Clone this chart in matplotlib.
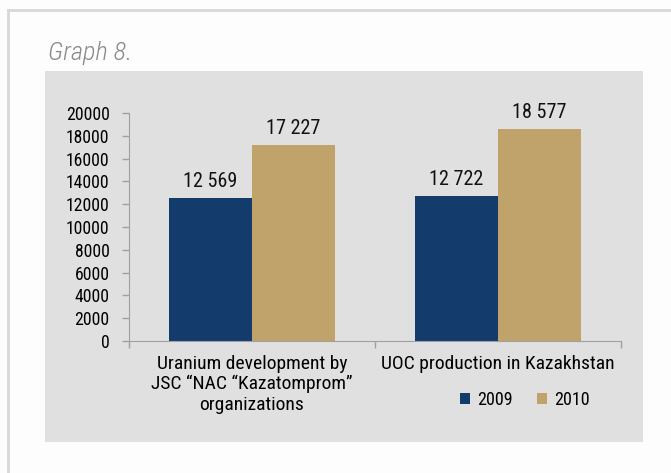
import matplotlib
matplotlib.use("Agg")
import matplotlib.pyplot as plt
from matplotlib.patches import Rectangle, Patch
from matplotlib.lines import Line2D

categories = ["Uranium development by\nJSC \u201cNAC \u201cKazatomprom\u201d\norganizations",
              "UOC production in Kazakhstan"]
years = ["2009", "2010"]
values_2009 = [12569, 12722]
values_2010 = [17227, 18577]
colors = ["#133b6c", "#bfa36b"]  # темно-синий и бежевый

plt.rcParams["font.family"] = ["Roboto Condensed", "DejaVu Sans"]

fig = plt.figure(figsize=(6.71, 4.73), dpi=100)
fig.patch.set_facecolor("#fdfdfd")

# серая подложка и рамка страницы
panel = Rectangle((45 / 671, 1 - 442 / 473), 598 / 671, 371 / 473,
                  transform=fig.transFigure, facecolor="#e0e0e0",
                  edgecolor="none", zorder=-10)
fig.patches.append(panel)
fig.lines.append(Line2D([8 / 671, 1], [1 - 10.5 / 473, 1 - 10.5 / 473],
                        transform=fig.transFigure, color="#d8d8d8", lw=2, zorder=-10))
fig.lines.append(Line2D([8 / 671, 8 / 671], [0, 1 - 10.5 / 473],
                        transform=fig.transFigure, color="#d8d8d8", lw=2, zorder=-10))

fig.text(48 / 671, 1 - 60 / 473, "Graph 8.", fontsize=19, style="italic",
         color="#8a8a8a", ha="left", va="baseline", fontweight="light")

ax = fig.add_axes([129 / 671, 1 - 341 / 473, 492 / 671, 228 / 473])
ax.set_zorder(5)
ax.set_facecolor("none")

w = 0.3375
x = range(len(categories))
b1 = ax.bar([i - w / 2 for i in x], values_2009, width=w, color=colors[0], label=years[0])
b2 = ax.bar([i + w / 2 for i in x], values_2010, width=w, color=colors[1], label=years[1])

for bars in (b1, b2):
    for rect in bars:
        v = rect.get_height()
        txt = f"{v:,}".replace(",", " ")
        ax.annotate(txt, (rect.get_x() + rect.get_width() / 2, v),
                    xytext=(0, 8), textcoords="offset points",
                    ha="center", va="baseline", fontsize=14.5, color="#111111")

ax.set_xlim(-0.5, 1.5)
ax.set_ylim(0, 20000)
ax.set_yticks(range(0, 20001, 2000))
ax.tick_params(axis="y", labelsize=12.7, length=5, width=1, color="#a0a0a0", pad=9)

ax.set_xticks([-0.5, 0.5, 1.5])
ax.set_xticklabels([])
ax.tick_params(axis="x", which="major", length=5, width=1, color="#a0a0a0")
ax.set_xticks(list(x), minor=True)
ax.set_xticklabels(categories, minor=True, fontsize=14, linespacing=1.15)
ax.tick_params(axis="x", which="minor", length=0, pad=10)

for s in ["top", "right"]:
    ax.spines[s].set_visible(False)
for s in ["left", "bottom"]:
    ax.spines[s].set_color("#a0a0a0")

handles = [Patch(facecolor=c, edgecolor="none") for c in colors]
fig.legend(handles, years, loc="center", bbox_to_anchor=(525 / 671, 1 - 400 / 473),
           ncol=2, frameon=False, fontsize=13, handlelength=0.55, handleheight=0.55,
           handletextpad=0.4, columnspacing=1.35)

fig.savefig("out.png", dpi=100, facecolor=fig.get_facecolor())
